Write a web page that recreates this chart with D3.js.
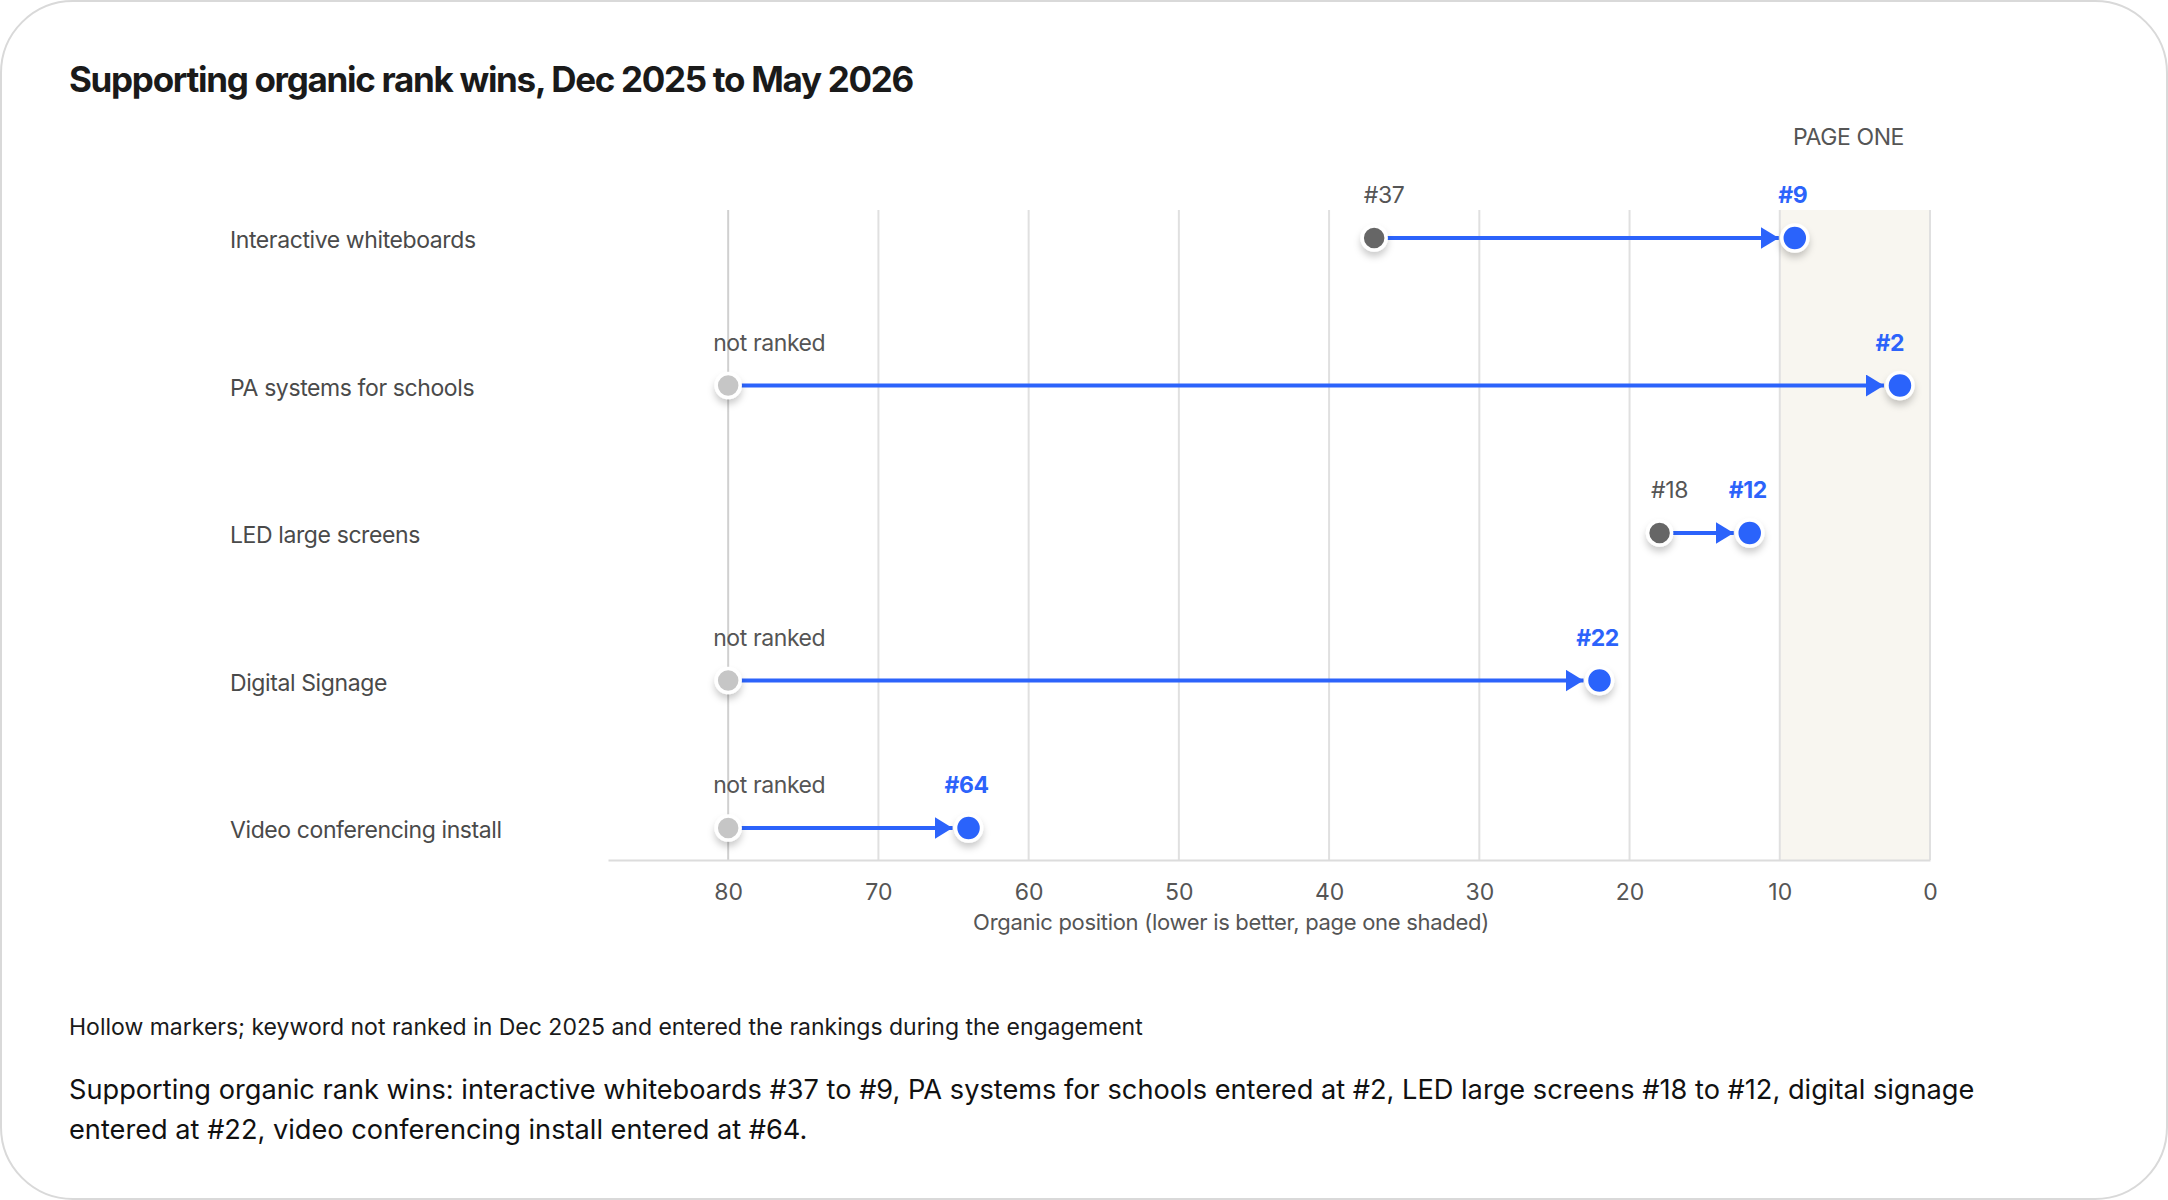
<!DOCTYPE html>
<html>
<head>
<meta charset="utf-8">
<script src="https://cdn.jsdelivr.net/npm/d3@7"></script>
<style>
  html, body { margin: 0; padding: 0; background: #fff; }
  body { width: 2168px; height: 1200px; overflow: hidden; font-family: Inter, "Noto Sans", sans-serif; }
  text { font-family: Inter, "Noto Sans", sans-serif; }
</style>
</head>
<body>
<div id="chart"></div>
<script>
// Données du graphique
const keywords = [
  "Interactive whiteboards",
  "PA systems for schools",
  "LED large screens",
  "Digital Signage",
  "Video conferencing install"
];
const rankDec = [37, null, 18, null, null];   // null = pas classé en Dec 2025
const rankMay = [9, 2, 12, 22, 64];
const xTicks = [80, 70, 60, 50, 40, 30, 20, 10, 0];
const pageOne = [10, 0];
const notRankedAt = 80;

const title = "Supporting organic rank wins, Dec 2025 to May 2026";
const axisTitle = "Organic position (lower is better, page one shaded)";
const footnote = "Hollow markers; keyword not ranked in Dec 2025 and entered the rankings during the engagement";
const captionLines = [
  "Supporting organic rank wins: interactive whiteboards #37 to #9, PA systems for schools entered at #2, LED large screens #18 to #12, digital signage",
  "entered at #22, video conferencing install entered at #64."
];

// Dimensions
const W = 2168, H = 1200;
const plotTop = 210, plotBottom = 860;
const labelRight = 1904; // bord droit max des étiquettes
const blue = "#2c63fb";

const svg = d3.select("#chart")
  .append("svg")
  .attr("width", W)
  .attr("height", H);

// ombre portée des marqueurs
const defs = svg.append("defs");
defs.append("filter")
  .attr("id", "shadow")
  .attr("x", "-60%").attr("y", "-60%")
  .attr("width", "220%").attr("height", "220%")
  .append("feDropShadow")
  .attr("dx", 0).attr("dy", 5)
  .attr("stdDeviation", 3.5)
  .attr("flood-color", "#000")
  .attr("flood-opacity", 0.2);

defs.append("marker")
  .attr("id", "arrow")
  .attr("viewBox", "0 0 18 22")
  .attr("refX", 18).attr("refY", 11)
  .attr("markerWidth", 18).attr("markerHeight", 22)
  .attr("markerUnits", "userSpaceOnUse")
  .attr("orient", "auto")
  .append("path")
  .attr("d", "M0,0L18,11L0,22Z")
  .attr("fill", blue);

// Carte (fond)
svg.append("rect")
  .attr("x", 1).attr("y", 1)
  .attr("width", W - 2).attr("height", H - 2)
  .attr("rx", 72).attr("ry", 72)
  .attr("fill", "#fff")
  .attr("stroke", "#d9d9d9")
  .attr("stroke-width", 2);

// Titre
svg.append("text")
  .attr("x", 69).attr("y", 92)
  .attr("font-size", 35)
  .attr("font-weight", 700)
  .attr("letter-spacing", "-1.3px")
  .attr("fill", "#1a1a1a")
  .text(title);

// Échelles
const x = d3.scaleLinear().domain([88, 0]).range([608, 1930]);
const y = d3.scalePoint().domain(keywords).range([238, 828]);

// Zone page un
svg.append("rect")
  .attr("x", x(pageOne[0])).attr("y", plotTop)
  .attr("width", x(pageOne[1]) - x(pageOne[0]))
  .attr("height", plotBottom - plotTop)
  .attr("fill", "#f8f6f0");

svg.append("text")
  .attr("x", labelRight)
  .attr("y", 145)
  .attr("text-anchor", "end")
  .attr("font-size", 23)
  .attr("letter-spacing", "-0.4px")
  .attr("fill", "#555")
  .text("PAGE ONE");

// Lignes de grille
svg.append("g")
  .selectAll("line")
  .data(xTicks)
  .enter()
  .append("line")
  .attr("x1", (d) => x(d)).attr("x2", (d) => x(d))
  .attr("y1", plotTop).attr("y2", plotBottom)
  .attr("stroke", (d) => d === 80 ? "#d0d0d0" : "#e0e0e0")
  .attr("stroke-width", 2);

// Axe x
const xAxis = svg.append("g")
  .attr("transform", `translate(0,${plotBottom})`)
  .call(d3.axisBottom(x).tickValues(xTicks).tickSize(0).tickPadding(24));
xAxis.select(".domain").attr("stroke", "#dcdcdc").attr("stroke-width", 2);
xAxis.selectAll("text")
  .attr("font-size", 23)
  .attr("fill", "#555")
  .style("font-family", "Inter, sans-serif");

svg.append("text")
  .attr("x", 1231).attr("y", 930)
  .attr("text-anchor", "middle")
  .attr("font-size", 22)
  .attr("letter-spacing", "-0.3px")
  .attr("fill", "#555")
  .text(axisTitle);

// Libellés des lignes
svg.append("g")
  .selectAll("text")
  .data(keywords)
  .enter()
  .append("text")
  .attr("x", 230)
  .attr("y", (d) => y(d) + 10)
  .attr("font-size", 23)
  .attr("letter-spacing", "-0.4px")
  .attr("fill", "#4a4a4a")
  .text((d) => d);

const rows = keywords.map((k, i) => ({
  key: k,
  from: rankDec[i],
  to: rankMay[i],
  start: rankDec[i] === null ? notRankedAt : rankDec[i]
}));

// Flèches
svg.append("g")
  .selectAll("line")
  .data(rows)
  .enter()
  .append("line")
  .attr("x1", (d) => x(d.start) + 10)
  .attr("x2", (d) => x(d.to) - 16)
  .attr("y1", (d) => y(d.key))
  .attr("y2", (d) => y(d.key))
  .attr("stroke", blue)
  .attr("stroke-width", 4)
  .attr("marker-end", "url(#arrow)");

// Marqueurs de départ
svg.append("g")
  .selectAll("circle")
  .data(rows)
  .enter()
  .append("circle")
  .attr("cx", (d) => x(d.start))
  .attr("cy", (d) => y(d.key))
  .attr("r", 12)
  .attr("fill", (d) => d.from === null ? "#c6c6c6" : "#666")
  .attr("stroke", "#fff")
  .attr("stroke-width", 3.5)
  .attr("filter", "url(#shadow)");

// Marqueurs d'arrivée
svg.append("g")
  .selectAll("circle")
  .data(rows)
  .enter()
  .append("circle")
  .attr("cx", (d) => x(d.to))
  .attr("cy", (d) => y(d.key))
  .attr("r", 13)
  .attr("fill", blue)
  .attr("stroke", "#fff")
  .attr("stroke-width", 3.5)
  .attr("filter", "url(#shadow)");

// Étiquettes de départ
svg.append("g")
  .selectAll("text")
  .data(rows)
  .enter()
  .append("text")
  .attr("x", (d) => d.from === null ? x(d.start) - 15 : x(d.start) + 10)
  .attr("y", (d) => y(d.key) - 35)
  .attr("text-anchor", (d) => d.from === null ? "start" : "middle")
  .attr("font-size", 23)
  .attr("letter-spacing", "-0.4px")
  .attr("fill", "#555")
  .text((d) => d.from === null ? "not ranked" : "#" + d.from);

// Étiquettes d'arrivée (limitées au bord droit)
svg.append("g")
  .selectAll("text")
  .data(rows)
  .enter()
  .append("text")
  .attr("y", (d) => y(d.key) - 35)
  .attr("text-anchor", "middle")
  .attr("font-size", 23)
  .attr("font-weight", 700)
  .attr("letter-spacing", "-0.4px")
  .attr("fill", blue)
  .text((d) => "#" + d.to)
  .attr("x", function (d) {
    const w = this.getComputedTextLength();
    return Math.min(x(d.to) - 2, labelRight - w / 2);
  });

// Note et légende
svg.append("text")
  .attr("x", 69).attr("y", 1035)
  .attr("font-size", 23)
  .attr("fill", "#1a1a1a")
  .text(footnote);

svg.append("g")
  .selectAll("text")
  .data(captionLines)
  .enter()
  .append("text")
  .attr("x", 69)
  .attr("y", (d, i) => 1099 + i * 40)
  .attr("font-size", 27.2)
  .attr("fill", "#111")
  .text((d) => d);
</script>
</body>
</html>
